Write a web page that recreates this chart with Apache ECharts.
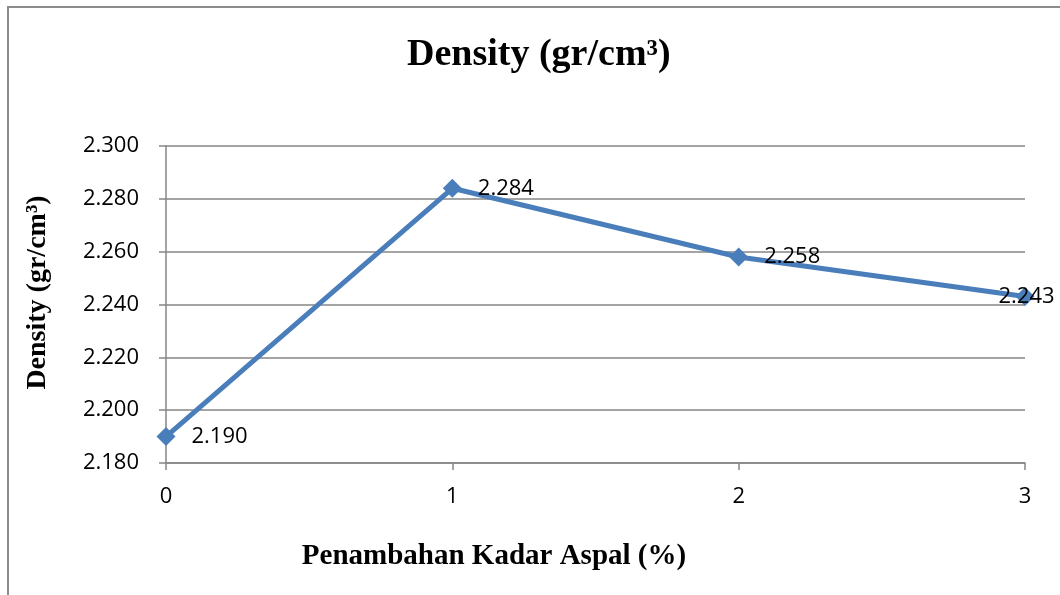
<!DOCTYPE html>
<html>
<head>
<meta charset="utf-8">
<script src="https://cdn.jsdelivr.net/npm/echarts@6/dist/echarts.min.js"></script>
<style>
  html, body { margin: 0; padding: 0; background: #fff; }
  #chart { width: 1060px; height: 595px; }
</style>
</head>
<body>
<div id="chart"></div>
<script>
  // kadar aspal tambahan (%) dan density
  const kadarAspal = [0, 1, 2, 3]
  const density = [2.190, 2.284, 2.258, 2.243]
  const yTicks = { min: 2.18, max: 2.30, interval: 0.02 }

  const labelFont = '"Open Sans", sans-serif'
  const serif = '"Liberation Serif", "DejaVu Serif", serif'

  const chart = echarts.init(document.getElementById('chart'))

  const points = kadarAspal.map((x, i) => {
    const item = { value: [x, density[i]] }
    // label terakhir digeser ke kiri seperti di Excel
    if (i === kadarAspal.length - 1) {
      item.label = { offset: [-52, 0] }
    }
    return item
  })

  chart.setOption({
    animation: false,
    title: {
      text: 'Density (gr/cm³)',
      left: 402,
      top: 31,
      textStyle: {
        fontFamily: serif,
        fontWeight: 'bold',
        fontSize: 38,
        color: '#000'
      }
    },
    grid: {
      left: 166,
      right: 35,
      top: 146,
      bottom: 132
    },
    graphic: [{
      type: 'rect',
      shape: { x: 8, y: 7, width: 1100, height: 620 },
      style: { fill: 'none', stroke: '#8c8c8c', lineWidth: 2 },
      silent: true
    }, {
      type: 'text',
      x: 494,
      y: 557,
      style: {
        text: 'Penambahan Kadar Aspal (%)',
        font: 'bold 29px ' + serif,
        fill: '#000',
        align: 'center',
        verticalAlign: 'middle'
      }
    }],
    xAxis: {
      type: 'value',
      min: 0,
      max: 3,
      interval: 1,
      axisLine: { show: true, lineStyle: { color: '#868686', width: 1.5 } },
      axisTick: { show: true, length: 7, lineStyle: { color: '#868686', width: 1.5 } },
      axisLabel: { color: '#000', fontFamily: labelFont, fontSize: 22, margin: 23 },
      splitLine: { show: false }
    },
    yAxis: {
      type: 'value',
      min: yTicks.min,
      max: yTicks.max,
      interval: yTicks.interval,
      name: 'Density (gr/cm³)',
      nameLocation: 'middle',
      nameGap: 114,
      nameTextStyle: {
        fontFamily: serif,
        fontWeight: 'bold',
        fontSize: 28,
        color: '#000',
        padding: [0, 0, 0, 24]
      },
      axisLine: { show: true, lineStyle: { color: '#868686', width: 1.5 } },
      axisTick: { show: true, length: 7, lineStyle: { color: '#868686', width: 1.5 } },
      axisLabel: {
        color: '#000',
        fontFamily: labelFont,
        fontSize: 22,
        margin: 27,
        formatter: v => v.toFixed(3)
      },
      splitLine: { show: true, lineStyle: { color: '#868686', width: 1.5 } }
    },
    series: [{
      type: 'line',
      data: points,
      symbol: 'diamond',
      symbolSize: 19,
      itemStyle: { color: '#4a7ebb' },
      lineStyle: { color: '#4a7ebb', width: 5 },
      label: {
        show: true,
        position: 'right',
        distance: 16,
        color: '#000',
        fontFamily: labelFont,
        fontSize: 22,
        formatter: p => p.value[1].toFixed(3)
      }
    }]
  })
</script>
</body>
</html>
